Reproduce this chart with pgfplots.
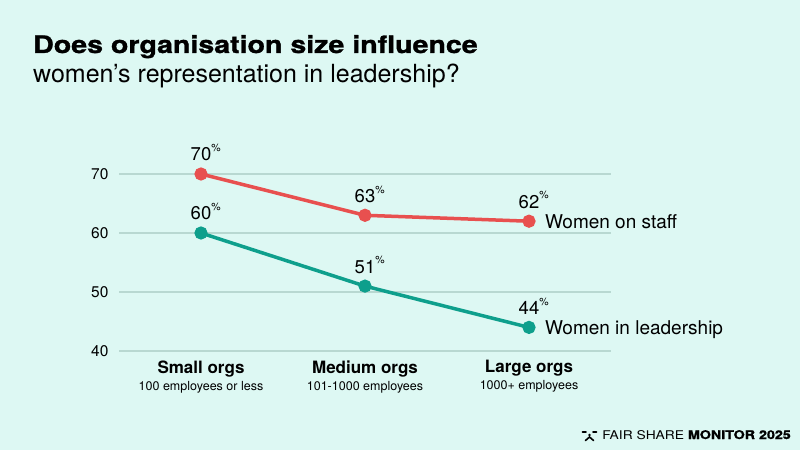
\documentclass[border=0pt]{standalone}
\usepackage{pgfplots}
\pgfplotsset{compat=1.18}
\usepackage{fontspec}
\setmainfont{TeX Gyre Heros}
\newfontfamily\titlefont[FakeStretch=1.19, FakeBold=1.2]{TeX Gyre Heros Bold}
\newfontfamily\widefont[FakeStretch=1.15]{TeX Gyre Heros}
\definecolor{bgc}{HTML}{DDF8F3}
\definecolor{gridc}{HTML}{B8D8D1}
\definecolor{redc}{HTML}{E8504F}
\definecolor{tealc}{HTML}{0E9F8C}
\newcommand{\pct}{\rlap{\raisebox{0.5em}{\fontsize{10.5}{10}\selectfont\%}}}
\begin{document}
\begin{tikzpicture}[x=1pt,y=1pt]
\fill[bgc] (0,0) rectangle (800,450);
\node[anchor=base west,inner sep=0pt] at (33,397) {\fontsize{24}{28}\titlefont Does organisation size influence};
\node[anchor=base west,inner sep=0pt] at (33,367) {\fontsize{25}{28}\selectfont women’s representation in leadership?};
\begin{axis}[
  at={(119pt,99pt)}, anchor=south west,
  scale only axis, width=492pt, height=177pt,
  xmin=-0.5, xmax=2.5, ymin=40, ymax=70,
  clip=false,
  axis line style={draw=none},
  major tick length=0pt,
  ymajorgrids,
  grid style={color=gridc, line width=1.2pt},
  /pgf/number format/assume math mode=true,
  ytick={40,50,60,70},
  yticklabel style={font=\fontsize{15.5}{18}\selectfont, xshift=-7pt},
  xtick={0,1,2},
  xticklabels={
    {\bfseries Small orgs\\[-1pt]{\fontsize{12.5}{15}\selectfont 100 employees or less}},
    {\bfseries Medium orgs\\[-1pt]{\fontsize{12.5}{15}\selectfont 101-1000 employees}},
    {\bfseries Large orgs\\[-1pt]{\fontsize{12.5}{15}\selectfont 1000+ employees}}},
  xticklabel style={align=center, font=\fontsize{17}{18}\selectfont, yshift=-6pt},
  nodes near coords={\pgfmathprintnumber{\pgfplotspointmeta}\pct},
  every node near coord/.style={anchor=south, inner sep=0pt, yshift=11pt, font=\fontsize{18.5}{20}\selectfont, text=black},
  point meta=y,
]
\addplot[redc, line width=3.5pt, mark=*, mark size=4.8pt, mark options={fill=redc, draw=none}]
  coordinates {(0,70) (1,63) (2,62)}
  node[pos=1, anchor=base west, xshift=11pt, yshift=-7pt, text=black, font=\fontsize{19}{22}\selectfont] {Women on staff};
\addplot[tealc, line width=3.5pt, mark=*, mark size=4.8pt, mark options={fill=tealc, draw=none}]
  coordinates {(0,60) (1,51) (2,44)}
  node[pos=1, anchor=base west, xshift=11pt, yshift=-7pt, text=black, font=\fontsize{19}{22}\selectfont] {Women in leadership};
\end{axis}
% footer logo
\begin{scope}[line width=1.6pt, line cap=round, black]
\draw (582.5,18) -- (586,18);
\draw (593,18) -- (596.5,18);
\fill (589.5,15) circle (1.3);
\draw (585.5,9.5) -- (589.5,13) -- (593.5,9.5);
\end{scope}
\node[anchor=base east,inner sep=0pt] at (791,11) {\fontsize{12}{14}\widefont FAIR SHARE {\titlefont MONITOR 2025}};
\end{tikzpicture}
\end{document}
